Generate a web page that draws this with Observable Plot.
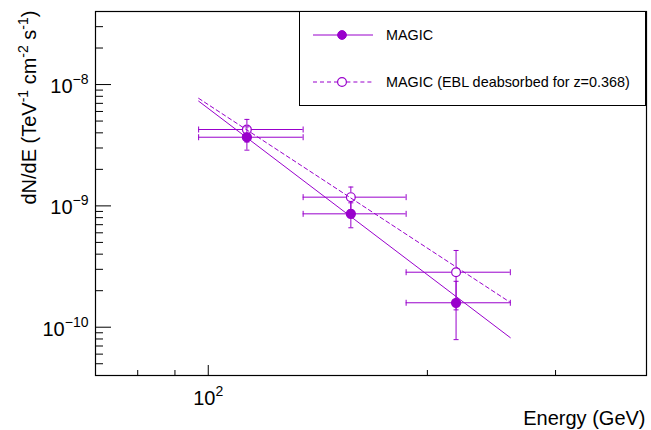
<!DOCTYPE html>
<html>
<head>
<meta charset="utf-8">
<script src="https://cdn.jsdelivr.net/npm/d3@7"></script>
<script src="https://cdn.jsdelivr.net/npm/@observablehq/plot@0.6"></script>
<style>
  body { margin: 0; background: #fff; font-family: "Liberation Sans", Arial, Helvetica, sans-serif; }
  #wrap { position: relative; width: 651px; height: 430px; overflow: hidden; }
  #legend { position: absolute; left: 299px; top: 11px; }
</style>
</head>
<body>
<div id="wrap"></div>
<script>
// ---- data ----
const energy      = [113, 157, 219];          // GeV, bin centres
const energyLow   = [97, 135, 187];           // bin low edges
const energyHigh  = [135, 187, 260];          // bin high edges
const fluxObs     = [3.68e-9, 8.6e-10, 1.59e-10];
const fluxObsErr  = [0.8e-9, 0.2e-9, 0.8e-10];
const fluxDeabs   = [4.26e-9, 1.18e-9, 2.84e-10];
const fluxDeabsErr= [0.9e-9, 0.25e-9, 1.45e-10];
const fitEnergy   = [97, 260];
const fitObs      = [7.3e-9, 8.2e-11];
const fitDeabs    = [7.7e-9, 1.6e-10];
const xMajorTicks = [100];
const xMinorTicks = [80, 90, 200, 300];
const yMajorTicks = [1e-10, 1e-9, 1e-8];
const yMinorTicks = [5e-11, 6e-11, 7e-11, 8e-11, 9e-11,
                     2e-10, 3e-10, 4e-10, 5e-10, 6e-10, 7e-10, 8e-10, 9e-10,
                     2e-9, 3e-9, 4e-9, 5e-9, 6e-9, 7e-9, 8e-9, 9e-9,
                     2e-8, 3e-8];
const seriesNames = ["MAGIC", "MAGIC (EBL deabsorbed for z=0.368)"];
const xTitle = "Energy (GeV)";
const yTitle = "dN/dE (TeV^{-1} cm^{-2} s^{-1})";

// ---- tables ----
const obs = energy.map((e, i) => ({e, lo: energyLow[i], hi: energyHigh[i], f: fluxObs[i], err: fluxObsErr[i]}));
const deabs = energy.map((e, i) => ({e, lo: energyLow[i], hi: energyHigh[i], f: fluxDeabs[i], err: fluxDeabsErr[i]}));
const fitObsRows = fitEnergy.map((e, i) => ({e, f: fitObs[i]}));
const fitDeabsRows = fitEnergy.map((e, i) => ({e, f: fitDeabs[i]}));

const COLOR = "#9900cc";
const R = 4.4;
const hcap = {draw(c) { c.moveTo(-2.5, 0); c.lineTo(2.5, 0); }};
const vcap = {draw(c) { c.moveTo(0, -3); c.lineTo(0, 3); }};

function errorMarks(rows) {
  const s = {stroke: COLOR, strokeWidth: 1};
  return [
    Plot.ruleY(rows, {y: "f", x1: "lo", x2: "e", insetRight: R, ...s}),
    Plot.ruleY(rows, {y: "f", x1: "e", x2: "hi", insetLeft: R, ...s}),
    Plot.ruleX(rows, {x: "e", y1: d => d.f + d.err, y2: "f", insetBottom: R, ...s}),
    Plot.ruleX(rows, {x: "e", y1: "f", y2: d => d.f - d.err, insetTop: R, ...s}),
    Plot.dot(rows, {x: "e", y: d => d.f + d.err, symbol: hcap, r: 1, fill: "none", ...s}),
    Plot.dot(rows, {x: "e", y: d => d.f - d.err, symbol: hcap, r: 1, fill: "none", ...s}),
    Plot.dot(rows, {x: "lo", y: "f", symbol: vcap, r: 1, fill: "none", ...s}),
    Plot.dot(rows, {x: "hi", y: "f", symbol: vcap, r: 1, fill: "none", ...s})
  ];
}

const plot = Plot.plot({
  width: 651,
  height: 430,
  marginLeft: 95,
  marginRight: 5,
  marginTop: 11,
  marginBottom: 55,
  style: {fontFamily: "'Liberation Sans', Arial, Helvetica, sans-serif", background: "white", color: "black"},
  x: {type: "log", domain: [70, 400], axis: null},
  y: {type: "log", domain: [4e-11, 4e-8], axis: null},
  marks: [
    // fitted power laws
    Plot.line(fitObsRows, {x: "e", y: "f", stroke: COLOR, strokeWidth: 1}),
    Plot.line(fitDeabsRows, {x: "e", y: "f", stroke: COLOR, strokeWidth: 1, strokeDasharray: "4,3"}),
    // error bars
    ...errorMarks(deabs),
    ...errorMarks(obs),
    // markers
    Plot.dot(deabs, {x: "e", y: "f", r: R, fill: "none", stroke: COLOR, strokeWidth: 1.2}),
    Plot.dot(obs, {x: "e", y: "f", r: R, fill: COLOR, stroke: COLOR}),
    // inward ticks
    Plot.axisY({ticks: yMajorTicks, anchor: "left", tickSize: -16, tickFormat: () => "", label: null, stroke: "black"}),
    Plot.axisY({ticks: yMinorTicks, anchor: "left", tickSize: -8, tickFormat: () => "", label: null, stroke: "black"}),
    Plot.axisX({ticks: xMajorTicks, anchor: "bottom", tickSize: -10, tickFormat: () => "", label: null, stroke: "black"}),
    Plot.axisX({ticks: xMinorTicks, anchor: "bottom", tickSize: -5, tickFormat: () => "", label: null, stroke: "black"}),
    // tick labels
    Plot.text(yMajorTicks, {y: d => d, frameAnchor: "left", dx: -7, dy: 2, textAnchor: "end", fontSize: 20, fill: "black",
      text: d => `10^{\u2212${-Math.round(Math.log10(d))}}`}),
    Plot.text(xMajorTicks, {x: d => d, frameAnchor: "bottom", dy: 29, lineAnchor: "bottom", textAnchor: "middle", fontSize: 20, fill: "black",
      text: d => `10^{${Math.round(Math.log10(d))}}`}),
    // axis titles
    Plot.text([xTitle], {frameAnchor: "bottom-right", text: d => d, dx: -1, dy: 49, lineAnchor: "bottom", textAnchor: "end", fontSize: 20, fill: "black"}),
    Plot.text([yTitle], {frameAnchor: "top-left", text: d => d, dx: -74, dy: -1, rotate: -90, textAnchor: "end", fontSize: 20, fill: "black"}),
    Plot.frame({stroke: "black", strokeWidth: 1.2})
  ]
});

function setRich(el, s, supSize, shift) {
  const parts = s.split(/(\^\{[^}]*\})/).filter(p => p);
  el.textContent = "";
  let raised = false;
  for (const p of parts) {
    const t = document.createElementNS("http://www.w3.org/2000/svg", "tspan");
    if (p.startsWith("^{")) {
      t.textContent = p.slice(2, -1);
      t.setAttribute("font-size", supSize);
      t.setAttribute("dy", -shift);
      raised = true;
    } else {
      t.textContent = p;
      if (raised) { t.setAttribute("dy", shift); raised = false; }
    }
    el.appendChild(t);
  }
}
d3.select(plot).selectAll("text").each(function() {
  const s = this.textContent;
  if (!s.includes("^{")) return;
  if (s.startsWith("10^{")) setRich(this, s, 14, 9);
  else setRich(this, s, 14, 8);
});

const wrap = document.getElementById("wrap");
wrap.appendChild(plot);

// ---- legend (ROOT-style box) ----
const LW = 347, LH = 95;
const leg = d3.select(wrap).append("svg").attr("id", "legend").attr("width", LW).attr("height", LH);
leg.append("rect").attr("x", 0.5).attr("y", 0.5).attr("width", LW - 1).attr("height", LH - 1)
  .attr("fill", "white").attr("stroke", "black").attr("stroke-width", 1);
const rowsY = [24, 71];
const lx0 = 14, lx1 = 74, mx = 43;
seriesNames.forEach((name, i) => {
  const g = leg.append("g");
  const y = rowsY[i];
  if (i === 0) {
    g.append("line").attr("x1", lx0).attr("x2", lx1).attr("y1", y).attr("y2", y).attr("stroke", COLOR);
    g.append("circle").attr("cx", mx).attr("cy", y).attr("r", R).attr("fill", COLOR).attr("stroke", COLOR);
  } else {
    g.append("line").attr("x1", lx0).attr("x2", mx - R).attr("y1", y).attr("y2", y).attr("stroke", COLOR).attr("stroke-dasharray", "4,3");
    g.append("line").attr("x1", mx + R).attr("x2", lx1).attr("y1", y).attr("y2", y).attr("stroke", COLOR).attr("stroke-dasharray", "4,3");
    g.append("circle").attr("cx", mx).attr("cy", y).attr("r", R).attr("fill", "none").attr("stroke", COLOR).attr("stroke-width", 1.2);
  }
  g.append("text").attr("x", 87).attr("y", y).attr("dy", "0.35em")
    .attr("font-family", "'Liberation Sans', Arial, Helvetica, sans-serif").attr("font-size", 14.4).attr("fill", "black")
    .text(name);
});
</script>
</body>
</html>
